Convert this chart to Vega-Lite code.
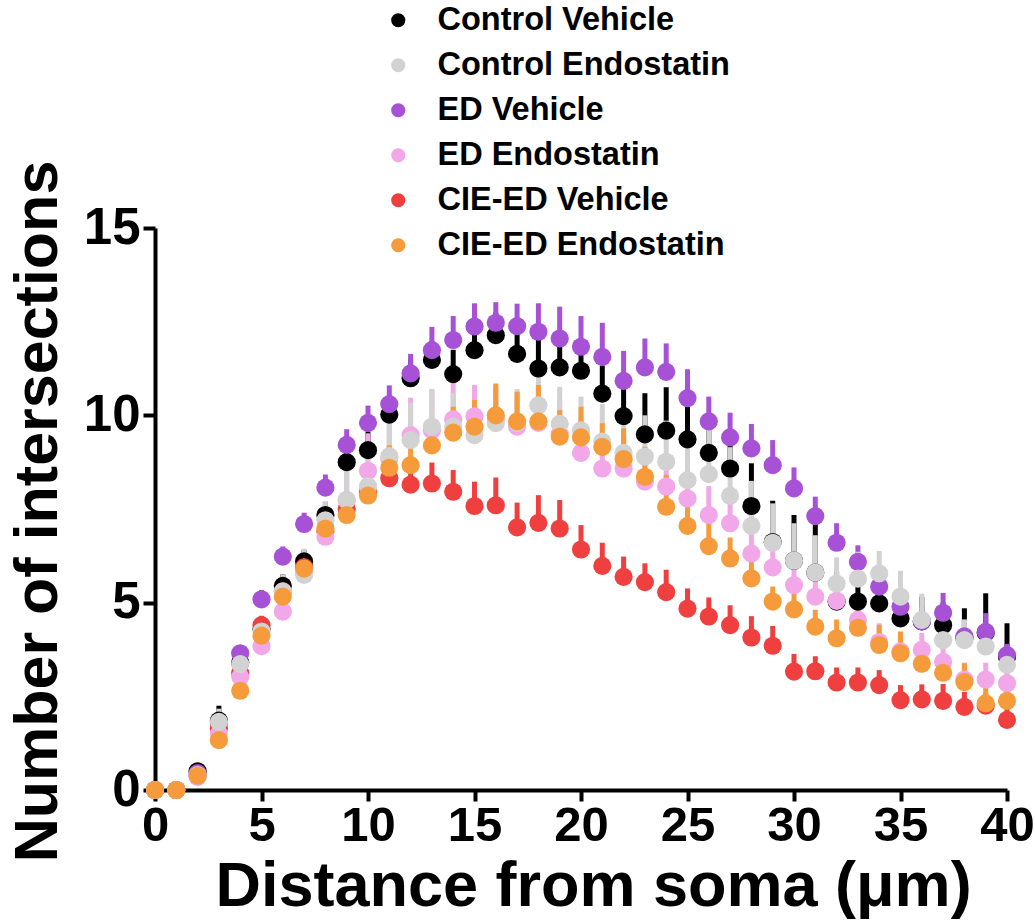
{
  "$schema": "https://vega.github.io/schema/vega-lite/v6.json",
  "width": 852,
  "height": 562,
  "autosize": {"type": "none"},
  "padding": {"left": 155, "top": 228, "right": 28, "bottom": 134},
  "background": "white",
  "config": {"view": {"stroke": null}, "font": "Liberation Sans"},
  "datasets": {
    "d": [
      {"g":"Control Vehicle","x":0,"y":0,"hi":0},{"g":"Control Vehicle","x":1,"y":0,"hi":0},{"g":"Control Vehicle","x":2,"y":0.5,"hi":0.6},{"g":"Control Vehicle","x":3,"y":1.85,"hi":2.25},{"g":"Control Vehicle","x":4,"y":3.4,"hi":3.6},{"g":"Control Vehicle","x":5,"y":4.3,"hi":4.5},{"g":"Control Vehicle","x":6,"y":5.45,"hi":5.75},{"g":"Control Vehicle","x":7,"y":6.1,"hi":6.4},{"g":"Control Vehicle","x":8,"y":7.34,"hi":7.69},{"g":"Control Vehicle","x":9,"y":8.75,"hi":9.25},{"g":"Control Vehicle","x":10,"y":9.07,"hi":9.57},{"g":"Control Vehicle","x":11,"y":10.02,"hi":10.52},{"g":"Control Vehicle","x":12,"y":10.99,"hi":11.49},{"g":"Control Vehicle","x":13,"y":11.48,"hi":11.98},{"g":"Control Vehicle","x":14,"y":11.1,"hi":11.75},{"g":"Control Vehicle","x":15,"y":11.74,"hi":12.34},{"g":"Control Vehicle","x":16,"y":12.14,"hi":12.74},{"g":"Control Vehicle","x":17,"y":11.64,"hi":12.39},{"g":"Control Vehicle","x":18,"y":11.25,"hi":12.1},{"g":"Control Vehicle","x":19,"y":11.28,"hi":12.08},{"g":"Control Vehicle","x":20,"y":11.19,"hi":11.94},{"g":"Control Vehicle","x":21,"y":10.58,"hi":11.33},{"g":"Control Vehicle","x":22,"y":9.98,"hi":10.85},{"g":"Control Vehicle","x":23,"y":9.49,"hi":10.59},{"g":"Control Vehicle","x":24,"y":9.59,"hi":10.75},{"g":"Control Vehicle","x":25,"y":9.36,"hi":10.23},{"g":"Control Vehicle","x":26,"y":9.0,"hi":9.8},{"g":"Control Vehicle","x":27,"y":8.58,"hi":9.18},{"g":"Control Vehicle","x":28,"y":7.58,"hi":8.72},{"g":"Control Vehicle","x":29,"y":6.62,"hi":7.72},{"g":"Control Vehicle","x":30,"y":6.12,"hi":7.34},{"g":"Control Vehicle","x":31,"y":5.8,"hi":7.12},{"g":"Control Vehicle","x":32,"y":5.03,"hi":5.83},{"g":"Control Vehicle","x":33,"y":5.03,"hi":5.83},{"g":"Control Vehicle","x":34,"y":4.98,"hi":5.68},{"g":"Control Vehicle","x":35,"y":4.58,"hi":5.18},{"g":"Control Vehicle","x":36,"y":4.5,"hi":5.15},{"g":"Control Vehicle","x":37,"y":4.4,"hi":5.0},{"g":"Control Vehicle","x":38,"y":4.05,"hi":4.85},{"g":"Control Vehicle","x":39,"y":4.2,"hi":5.25},{"g":"Control Vehicle","x":40,"y":3.55,"hi":4.45},
      {"g":"ED Vehicle","x":0,"y":0,"hi":0},{"g":"ED Vehicle","x":1,"y":0,"hi":0},{"g":"ED Vehicle","x":2,"y":0.45,"hi":0.5},{"g":"ED Vehicle","x":3,"y":1.8,"hi":2.0},{"g":"ED Vehicle","x":4,"y":3.65,"hi":3.85},{"g":"ED Vehicle","x":5,"y":5.09,"hi":5.34},{"g":"ED Vehicle","x":6,"y":6.23,"hi":6.5},{"g":"ED Vehicle","x":7,"y":7.1,"hi":7.4},{"g":"ED Vehicle","x":8,"y":8.07,"hi":8.42},{"g":"ED Vehicle","x":9,"y":9.21,"hi":9.63},{"g":"ED Vehicle","x":10,"y":9.8,"hi":10.26},{"g":"ED Vehicle","x":11,"y":10.3,"hi":10.8},{"g":"ED Vehicle","x":12,"y":11.12,"hi":11.64},{"g":"ED Vehicle","x":13,"y":11.74,"hi":12.36},{"g":"ED Vehicle","x":14,"y":12.01,"hi":12.65},{"g":"ED Vehicle","x":15,"y":12.37,"hi":12.99},{"g":"ED Vehicle","x":16,"y":12.47,"hi":13.02},{"g":"ED Vehicle","x":17,"y":12.38,"hi":12.98},{"g":"ED Vehicle","x":18,"y":12.23,"hi":12.99},{"g":"ED Vehicle","x":19,"y":12.05,"hi":12.9},{"g":"ED Vehicle","x":20,"y":11.83,"hi":12.65},{"g":"ED Vehicle","x":21,"y":11.56,"hi":12.47},{"g":"ED Vehicle","x":22,"y":10.92,"hi":11.72},{"g":"ED Vehicle","x":23,"y":11.28,"hi":12.05},{"g":"ED Vehicle","x":24,"y":11.16,"hi":11.92},{"g":"ED Vehicle","x":25,"y":10.46,"hi":11.23},{"g":"ED Vehicle","x":26,"y":9.84,"hi":10.5},{"g":"ED Vehicle","x":27,"y":9.41,"hi":10.07},{"g":"ED Vehicle","x":28,"y":9.12,"hi":9.77},{"g":"ED Vehicle","x":29,"y":8.67,"hi":9.34},{"g":"ED Vehicle","x":30,"y":8.05,"hi":8.61},{"g":"ED Vehicle","x":31,"y":7.31,"hi":7.83},{"g":"ED Vehicle","x":32,"y":6.6,"hi":7.12},{"g":"ED Vehicle","x":33,"y":6.09,"hi":6.53},{"g":"ED Vehicle","x":34,"y":5.43,"hi":5.83},{"g":"ED Vehicle","x":35,"y":4.89,"hi":5.29},{"g":"ED Vehicle","x":36,"y":4.5,"hi":4.9},{"g":"ED Vehicle","x":37,"y":4.73,"hi":5.26},{"g":"ED Vehicle","x":38,"y":4.1,"hi":4.55},{"g":"ED Vehicle","x":39,"y":4.22,"hi":4.72},{"g":"ED Vehicle","x":40,"y":3.6,"hi":3.9},
      {"g":"CIE-ED Vehicle","x":0,"y":0,"hi":0},{"g":"CIE-ED Vehicle","x":1,"y":0,"hi":0},{"g":"CIE-ED Vehicle","x":2,"y":0.4,"hi":0.45},{"g":"CIE-ED Vehicle","x":3,"y":1.65,"hi":1.85},{"g":"CIE-ED Vehicle","x":4,"y":3.12,"hi":3.32},{"g":"CIE-ED Vehicle","x":5,"y":4.4,"hi":4.65},{"g":"CIE-ED Vehicle","x":6,"y":5.3,"hi":5.6},{"g":"CIE-ED Vehicle","x":7,"y":5.95,"hi":6.25},{"g":"CIE-ED Vehicle","x":8,"y":6.9,"hi":7.3},{"g":"CIE-ED Vehicle","x":9,"y":7.5,"hi":7.95},{"g":"CIE-ED Vehicle","x":10,"y":7.95,"hi":8.45},{"g":"CIE-ED Vehicle","x":11,"y":8.32,"hi":8.82},{"g":"CIE-ED Vehicle","x":12,"y":8.15,"hi":8.7},{"g":"CIE-ED Vehicle","x":13,"y":8.18,"hi":8.74},{"g":"CIE-ED Vehicle","x":14,"y":7.96,"hi":8.54},{"g":"CIE-ED Vehicle","x":15,"y":7.58,"hi":8.23},{"g":"CIE-ED Vehicle","x":16,"y":7.6,"hi":8.34},{"g":"CIE-ED Vehicle","x":17,"y":7.01,"hi":7.67},{"g":"CIE-ED Vehicle","x":18,"y":7.13,"hi":7.87},{"g":"CIE-ED Vehicle","x":19,"y":6.98,"hi":7.74},{"g":"CIE-ED Vehicle","x":20,"y":6.42,"hi":7.07},{"g":"CIE-ED Vehicle","x":21,"y":5.98,"hi":6.6},{"g":"CIE-ED Vehicle","x":22,"y":5.69,"hi":6.23},{"g":"CIE-ED Vehicle","x":23,"y":5.55,"hi":6.05},{"g":"CIE-ED Vehicle","x":24,"y":5.28,"hi":5.88},{"g":"CIE-ED Vehicle","x":25,"y":4.84,"hi":5.38},{"g":"CIE-ED Vehicle","x":26,"y":4.63,"hi":5.14},{"g":"CIE-ED Vehicle","x":27,"y":4.4,"hi":4.93},{"g":"CIE-ED Vehicle","x":28,"y":4.07,"hi":4.64},{"g":"CIE-ED Vehicle","x":29,"y":3.85,"hi":4.38},{"g":"CIE-ED Vehicle","x":30,"y":3.16,"hi":3.63},{"g":"CIE-ED Vehicle","x":31,"y":3.17,"hi":3.57},{"g":"CIE-ED Vehicle","x":32,"y":2.87,"hi":3.27},{"g":"CIE-ED Vehicle","x":33,"y":2.87,"hi":3.27},{"g":"CIE-ED Vehicle","x":34,"y":2.8,"hi":3.2},{"g":"CIE-ED Vehicle","x":35,"y":2.4,"hi":2.8},{"g":"CIE-ED Vehicle","x":36,"y":2.42,"hi":2.82},{"g":"CIE-ED Vehicle","x":37,"y":2.38,"hi":2.83},{"g":"CIE-ED Vehicle","x":38,"y":2.22,"hi":2.62},{"g":"CIE-ED Vehicle","x":39,"y":2.25,"hi":2.6},{"g":"CIE-ED Vehicle","x":40,"y":1.87,"hi":2.17},
      {"g":"ED Endostatin","x":0,"y":0,"hi":0},{"g":"ED Endostatin","x":1,"y":0,"hi":0},{"g":"ED Endostatin","x":2,"y":0.35,"hi":0.4},{"g":"ED Endostatin","x":3,"y":1.5,"hi":1.7},{"g":"ED Endostatin","x":4,"y":3.02,"hi":3.22},{"g":"ED Endostatin","x":5,"y":3.84,"hi":4.09},{"g":"ED Endostatin","x":6,"y":4.76,"hi":5.06},{"g":"ED Endostatin","x":7,"y":5.8,"hi":6.2},{"g":"ED Endostatin","x":8,"y":6.76,"hi":7.26},{"g":"ED Endostatin","x":9,"y":7.74,"hi":8.64},{"g":"ED Endostatin","x":10,"y":8.52,"hi":9.52},{"g":"ED Endostatin","x":11,"y":8.85,"hi":9.9},{"g":"ED Endostatin","x":12,"y":9.47,"hi":10.47},{"g":"ED Endostatin","x":13,"y":9.6,"hi":10.7},{"g":"ED Endostatin","x":14,"y":9.89,"hi":10.89},{"g":"ED Endostatin","x":15,"y":9.97,"hi":10.81},{"g":"ED Endostatin","x":16,"y":9.9,"hi":10.8},{"g":"ED Endostatin","x":17,"y":9.7,"hi":10.6},{"g":"ED Endostatin","x":18,"y":9.8,"hi":10.7},{"g":"ED Endostatin","x":19,"y":9.5,"hi":10.4},{"g":"ED Endostatin","x":20,"y":9.0,"hi":9.95},{"g":"ED Endostatin","x":21,"y":8.58,"hi":9.48},{"g":"ED Endostatin","x":22,"y":8.58,"hi":9.43},{"g":"ED Endostatin","x":23,"y":8.23,"hi":9.08},{"g":"ED Endostatin","x":24,"y":8.1,"hi":8.9},{"g":"ED Endostatin","x":25,"y":7.78,"hi":8.58},{"g":"ED Endostatin","x":26,"y":7.34,"hi":8.11},{"g":"ED Endostatin","x":27,"y":7.12,"hi":7.72},{"g":"ED Endostatin","x":28,"y":6.31,"hi":6.91},{"g":"ED Endostatin","x":29,"y":5.94,"hi":6.54},{"g":"ED Endostatin","x":30,"y":5.47,"hi":6.02},{"g":"ED Endostatin","x":31,"y":5.16,"hi":5.71},{"g":"ED Endostatin","x":32,"y":5.05,"hi":5.55},{"g":"ED Endostatin","x":33,"y":4.54,"hi":5.04},{"g":"ED Endostatin","x":34,"y":3.95,"hi":4.45},{"g":"ED Endostatin","x":35,"y":3.7,"hi":4.15},{"g":"ED Endostatin","x":36,"y":3.74,"hi":4.19},{"g":"ED Endostatin","x":37,"y":3.42,"hi":3.87},{"g":"ED Endostatin","x":38,"y":2.95,"hi":3.4},{"g":"ED Endostatin","x":39,"y":2.95,"hi":3.4},{"g":"ED Endostatin","x":40,"y":2.85,"hi":3.25},
      {"g":"Control Endostatin","x":0,"y":0,"hi":0},{"g":"Control Endostatin","x":1,"y":0,"hi":0},{"g":"Control Endostatin","x":2,"y":0.4,"hi":0.5},{"g":"Control Endostatin","x":3,"y":1.82,"hi":2.17},{"g":"Control Endostatin","x":4,"y":3.36,"hi":3.56},{"g":"Control Endostatin","x":5,"y":4.23,"hi":4.43},{"g":"Control Endostatin","x":6,"y":5.3,"hi":5.75},{"g":"Control Endostatin","x":7,"y":5.74,"hi":6.44},{"g":"Control Endostatin","x":8,"y":7.2,"hi":7.7},{"g":"Control Endostatin","x":9,"y":7.74,"hi":8.64},{"g":"Control Endostatin","x":10,"y":8.11,"hi":9.01},{"g":"Control Endostatin","x":11,"y":8.91,"hi":9.81},{"g":"Control Endostatin","x":12,"y":9.34,"hi":10.34},{"g":"Control Endostatin","x":13,"y":9.7,"hi":10.7},{"g":"Control Endostatin","x":14,"y":9.7,"hi":10.6},{"g":"Control Endostatin","x":15,"y":9.47,"hi":10.37},{"g":"Control Endostatin","x":16,"y":9.79,"hi":10.69},{"g":"Control Endostatin","x":17,"y":9.8,"hi":10.7},{"g":"Control Endostatin","x":18,"y":10.27,"hi":11.03},{"g":"Control Endostatin","x":19,"y":9.77,"hi":10.76},{"g":"Control Endostatin","x":20,"y":9.6,"hi":10.5},{"g":"Control Endostatin","x":21,"y":9.3,"hi":10.3},{"g":"Control Endostatin","x":22,"y":9.0,"hi":10.0},{"g":"Control Endostatin","x":23,"y":8.9,"hi":10.0},{"g":"Control Endostatin","x":24,"y":8.76,"hi":9.86},{"g":"Control Endostatin","x":25,"y":8.27,"hi":9.37},{"g":"Control Endostatin","x":26,"y":8.43,"hi":9.79},{"g":"Control Endostatin","x":27,"y":7.85,"hi":9.15},{"g":"Control Endostatin","x":28,"y":7.05,"hi":8.25},{"g":"Control Endostatin","x":29,"y":6.6,"hi":7.65},{"g":"Control Endostatin","x":30,"y":6.12,"hi":7.12},{"g":"Control Endostatin","x":31,"y":5.8,"hi":6.8},{"g":"Control Endostatin","x":32,"y":5.51,"hi":6.21},{"g":"Control Endostatin","x":33,"y":5.64,"hi":6.36},{"g":"Control Endostatin","x":34,"y":5.78,"hi":6.38},{"g":"Control Endostatin","x":35,"y":5.16,"hi":5.85},{"g":"Control Endostatin","x":36,"y":4.54,"hi":5.24},{"g":"Control Endostatin","x":37,"y":4.0,"hi":4.65},{"g":"Control Endostatin","x":38,"y":4.0,"hi":4.55},{"g":"Control Endostatin","x":39,"y":3.83,"hi":4.33},{"g":"Control Endostatin","x":40,"y":3.34,"hi":3.79},
      {"g":"CIE-ED Endostatin","x":0,"y":0,"hi":0},{"g":"CIE-ED Endostatin","x":1,"y":0,"hi":0},{"g":"CIE-ED Endostatin","x":2,"y":0.38,"hi":0.43},{"g":"CIE-ED Endostatin","x":3,"y":1.33,"hi":1.48},{"g":"CIE-ED Endostatin","x":4,"y":2.65,"hi":2.85},{"g":"CIE-ED Endostatin","x":5,"y":4.12,"hi":4.37},{"g":"CIE-ED Endostatin","x":6,"y":5.16,"hi":5.46},{"g":"CIE-ED Endostatin","x":7,"y":5.91,"hi":6.26},{"g":"CIE-ED Endostatin","x":8,"y":6.98,"hi":7.38},{"g":"CIE-ED Endostatin","x":9,"y":7.34,"hi":7.84},{"g":"CIE-ED Endostatin","x":10,"y":7.86,"hi":8.41},{"g":"CIE-ED Endostatin","x":11,"y":8.6,"hi":9.2},{"g":"CIE-ED Endostatin","x":12,"y":8.67,"hi":9.32},{"g":"CIE-ED Endostatin","x":13,"y":9.2,"hi":9.9},{"g":"CIE-ED Endostatin","x":14,"y":9.54,"hi":10.23},{"g":"CIE-ED Endostatin","x":15,"y":9.7,"hi":10.41},{"g":"CIE-ED Endostatin","x":16,"y":10.0,"hi":10.85},{"g":"CIE-ED Endostatin","x":17,"y":9.84,"hi":10.63},{"g":"CIE-ED Endostatin","x":18,"y":9.84,"hi":10.81},{"g":"CIE-ED Endostatin","x":19,"y":9.43,"hi":10.14},{"g":"CIE-ED Endostatin","x":20,"y":9.41,"hi":10.23},{"g":"CIE-ED Endostatin","x":21,"y":9.16,"hi":9.79},{"g":"CIE-ED Endostatin","x":22,"y":8.83,"hi":9.65},{"g":"CIE-ED Endostatin","x":23,"y":8.36,"hi":9.16},{"g":"CIE-ED Endostatin","x":24,"y":7.56,"hi":8.41},{"g":"CIE-ED Endostatin","x":25,"y":7.05,"hi":7.65},{"g":"CIE-ED Endostatin","x":26,"y":6.51,"hi":7.12},{"g":"CIE-ED Endostatin","x":27,"y":6.18,"hi":6.74},{"g":"CIE-ED Endostatin","x":28,"y":5.65,"hi":6.14},{"g":"CIE-ED Endostatin","x":29,"y":5.03,"hi":5.43},{"g":"CIE-ED Endostatin","x":30,"y":4.82,"hi":5.27},{"g":"CIE-ED Endostatin","x":31,"y":4.36,"hi":4.81},{"g":"CIE-ED Endostatin","x":32,"y":4.05,"hi":4.55},{"g":"CIE-ED Endostatin","x":33,"y":4.33,"hi":4.86},{"g":"CIE-ED Endostatin","x":34,"y":3.87,"hi":4.4},{"g":"CIE-ED Endostatin","x":35,"y":3.65,"hi":4.23},{"g":"CIE-ED Endostatin","x":36,"y":3.37,"hi":3.87},{"g":"CIE-ED Endostatin","x":37,"y":3.13,"hi":3.63},{"g":"CIE-ED Endostatin","x":38,"y":2.88,"hi":3.38},{"g":"CIE-ED Endostatin","x":39,"y":2.31,"hi":2.81},{"g":"CIE-ED Endostatin","x":40,"y":2.38,"hi":2.88}
    ]
  },
  "data": {"name": "d"},
  "encoding": {
    "x": {
      "field": "x", "type": "quantitative",
      "scale": {"domain": [0, 40], "nice": false, "zero": false},
      "axis": {
        "title": "Distance from soma (μm)",
        "values": [0, 5, 10, 15, 20, 25, 30, 35, 40],
        "grid": false,
        "domainColor": "black", "domainWidth": 4,
        "tickColor": "black", "tickWidth": 4, "tickSize": 11,
        "labelFont": "Liberation Sans", "labelFontSize": 49, "labelFontWeight": "bold", "labelColor": "black",
        "labelPadding": 0, "labelFlush": false,
        "titleFont": "Liberation Sans", "titleFontSize": 63, "titleFontWeight": "bold", "titleColor": "black",
        "titleBaseline": "alphabetic", "titleY": 115, "titleX": 438
      }
    },
    "y": {
      "field": "y", "type": "quantitative",
      "scale": {"domain": [0, 15], "nice": false},
      "axis": {
        "title": "Number of intersections",
        "values": [0, 5, 10, 15],
        "grid": false,
        "domainColor": "black", "domainWidth": 4,
        "tickColor": "black", "tickWidth": 4, "tickSize": 12,
        "labelFont": "Liberation Sans", "labelFontSize": 51, "labelFontWeight": "bold", "labelColor": "black",
        "labelPadding": 3, "labelFlush": false,
        "titleFont": "Liberation Sans", "titleFontSize": 61, "titleFontWeight": "bold", "titleColor": "black",
        "titleBaseline": "alphabetic", "titleX": -99, "titleY": 283
      }
    },
    "color": {
      "field": "g", "type": "nominal",
      "scale": {
        "domain": ["Control Vehicle", "Control Endostatin", "ED Vehicle", "ED Endostatin", "CIE-ED Vehicle", "CIE-ED Endostatin"],
        "range": ["#000000", "#d2d2d2", "#a651d6", "#f2a7e8", "#ef3f3f", "#f59b3b"]
      },
      "legend": {
        "title": null,
        "orient": "none",
        "legendX": 227,
        "legendY": -224,
        "symbolType": "circle",
        "symbolSize": 160,
        "labelFont": "Liberation Sans",
        "labelFontSize": 32.5,
        "labelFontWeight": "bold",
        "labelColor": "black",
        "labelOffset": 23,
        "rowPadding": 12,
        "labelLimit": 600
      }
    }
  },
  "layer": [
    {
      "mark": {"type": "rule", "strokeWidth": 5},
      "encoding": {"y2": {"field": "hi"}}
    },
    {
      "mark": {"type": "point", "filled": true, "size": 330, "opacity": 1, "shape": "circle"},
      "encoding": {}
    }
  ]
}
